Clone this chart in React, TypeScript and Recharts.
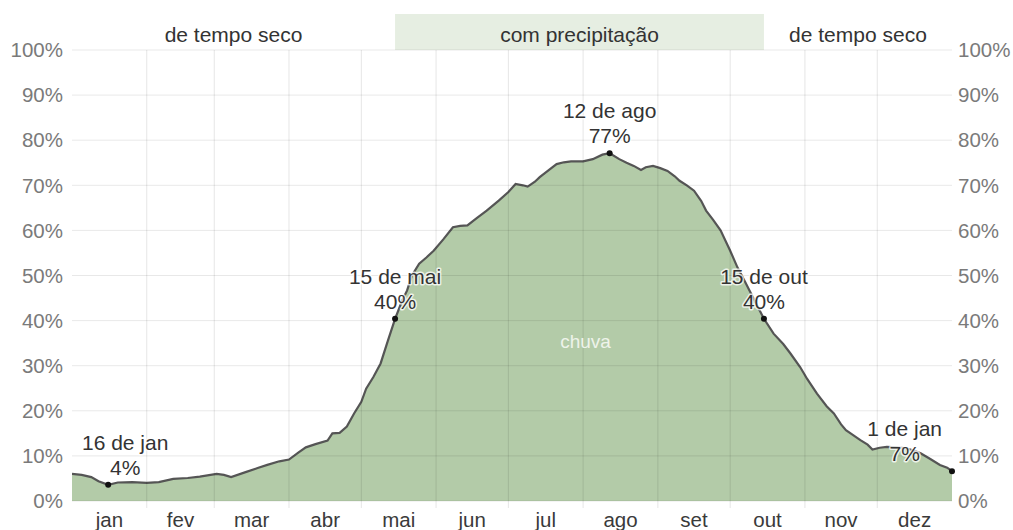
import React from 'react';
import {
  ComposedChart,
  Area,
  XAxis,
  YAxis,
  ReferenceLine,
  ReferenceArea,
  ReferenceDot,
} from 'recharts';

// ---------- data ----------
const days = [
  0, 4, 8, 11, 15, 19, 25, 31, 36, 42, 48, 53, 60, 63, 66, 72, 77, 81, 86, 90,
  94, 97, 101, 106, 108, 111, 114, 117, 120, 122, 125, 128, 131, 134, 137, 139,
  141, 144, 147, 150, 154, 158, 161, 164, 168, 172, 177, 181, 184, 187, 189,
  192, 194, 198, 201, 204, 207, 212, 216, 220, 223, 227, 230, 233, 236, 238,
  241, 244, 247, 250, 252, 255, 258, 261, 263, 266, 269, 273, 276, 279, 281,
  284, 287, 291, 295, 298, 302, 305, 309, 313, 316, 319, 321, 324, 327, 330,
  332, 335, 338, 342, 346, 349, 352, 356, 360, 363, 365,
];
const chuva = [
  6.0, 5.8, 5.3, 4.4, 3.6, 4.1, 4.2, 4.0, 4.2, 4.9, 5.1, 5.4, 6.0, 5.8, 5.3,
  6.4, 7.3, 8.0, 8.8, 9.2, 10.8, 11.9, 12.6, 13.4, 15.0, 15.1, 16.5, 19.4,
  22.0, 24.9, 27.5, 30.5, 35.5, 40.4, 44.5, 46.7, 50.0, 52.6, 54.0, 55.5, 58.0,
  60.7, 61.0, 61.1, 62.8, 64.4, 66.6, 68.5, 70.3, 70.0, 69.7, 70.8, 71.8, 73.5,
  74.7, 75.1, 75.3, 75.3, 75.8, 76.8, 77.1, 75.8, 75.0, 74.3, 73.4, 74.0, 74.3,
  73.8, 73.2, 72.0, 71.0, 70.0, 68.8, 66.5, 64.4, 62.3, 60.0, 55.5, 51.8, 48.8,
  46.7, 43.5, 40.4, 37.1, 34.8, 32.7, 29.7, 27.0, 23.8, 21.0, 19.4, 17.0, 15.7,
  14.6, 13.5, 12.5, 11.4, 11.8, 12.0, 11.9, 11.7, 11.2, 10.6, 9.3, 8.0, 7.4,
  6.6,
];
const monthNames = ['jan', 'fev', 'mar', 'abr', 'mai', 'jun', 'jul', 'ago', 'set', 'out', 'nov', 'dez'];
const monthStarts = [0, 31, 59, 90, 120, 151, 181, 212, 243, 273, 304, 334, 365];
const yTicks = [0, 10, 20, 30, 40, 50, 60, 70, 80, 90, 100];

const annotDays = [15, 134, 223, 287, 365];
const annotDates = ['16 de jan', '15 de mai', '12 de ago', '15 de out', '1 de jan'];
const annotLabels = ['4%', '40%', '77%', '40%', '7%'];

const wetStart = 134;
const wetEnd = 287;
const bandLabels = ['de tempo seco', 'com precipitação', 'de tempo seco'];
const seriesLabel = 'chuva';
const seriesLabelDay = 213;
const seriesLabelValue = 35.5;

const data = days.map((d, i) => ({ day: d, chuva: chuva[i] }));

// ---------- layout ----------
const FONT = "'Liberation Sans', Arial, sans-serif";
const W = 1013;
const H = 530;
const M_TOP = 50;
const Y_LEFT_W = 72;
const Y_RIGHT_W = 61;
const X_H = 29;
const PLOT_L = Y_LEFT_W;
const PLOT_R = W - Y_RIGHT_W;
const FS = 21;

const monthMids = monthStarts.slice(0, 12).map((s, i) => (s + monthStarts[i + 1]) / 2);
const innerStarts = monthStarts.slice(1, 12);
const xTicks = [...innerStarts, ...monthMids].sort((a, b) => a - b);

let ctx: CanvasRenderingContext2D | null = null;
const measure = (s: string) => {
  if (!ctx) ctx = document.createElement('canvas').getContext('2d');
  if (!ctx) return s.length * 10;
  ctx.font = `${FS}px ${FONT}`;
  return ctx.measureText(s).width;
};

const MonthTick = (props: any) => {
  const { x, y, payload } = props;
  const v = payload.value;
  const mi = monthMids.indexOf(v);
  if (mi >= 0) {
    return (
      <text x={x} y={y + 26} textAnchor="middle" fill="#3a3a3a" fontSize={20.5} fontFamily={FONT}>
        {monthNames[mi]}
      </text>
    );
  }
  return <line x1={x} x2={x} y1={y} y2={y + 7} stroke="#000" strokeOpacity={0.1} strokeWidth={1} />;
};

const haloProps = {
  stroke: 'rgba(255,255,255,0.75)',
  strokeWidth: 3,
  paintOrder: 'stroke' as any,
  strokeLinejoin: 'round' as any,
};

const makeAnnotShape = (date: string, pct: string) => (p: any) => {
  const { cx, cy } = p;
  const w = Math.max(measure(date), measure(pct));
  const minC = PLOT_L + 10 + w / 2;
  const maxC = PLOT_R - 10 - w / 2;
  const tx = Math.min(Math.max(cx, minC), maxC);
  return (
    <g>
      <circle cx={cx} cy={cy} r={3} fill="#111" />
      <text x={tx} y={cy - 35} textAnchor="middle" fill="#333" fontSize={FS} fontFamily={FONT} {...haloProps}>
        {date}
      </text>
      <text x={tx} y={cy - 10} textAnchor="middle" fill="#333" fontSize={FS} fontFamily={FONT} {...haloProps}>
        {pct}
      </text>
    </g>
  );
};

const seriesLabelShape = (p: any) => (
  <text x={p.cx} y={p.cy + 7} textAnchor="middle" fill="#eef3ea" fontSize={19} fontFamily={FONT}>
    {seriesLabel}
  </text>
);

const valueAt = (d: number) => {
  const i = days.indexOf(d);
  return i >= 0 ? chuva[i] : 0;
};

export default function App() {
  return (
    <div style={{ position: 'absolute', left: 0, top: 0, width: W, height: H, background: '#fff', fontFamily: FONT }}>
      <ComposedChart width={W} height={H} data={data} margin={{ top: M_TOP, right: 0, bottom: 0, left: 0 }}>
        <XAxis
          dataKey="day"
          type="number"
          domain={[0, 365]}
          ticks={xTicks}
          interval={0}
          tickLine={false}
          axisLine={false}
          tickSize={0}
          tickMargin={0}
          height={X_H}
          tick={(p: any) => <MonthTick {...p} />}
          allowDataOverflow
        />
        <YAxis
          yAxisId="l"
          domain={[0, 100]}
          ticks={yTicks}
          interval={0}
          width={Y_LEFT_W}
          axisLine={false}
          tickLine={false}
          tickSize={6}
          tickMargin={3}
          tickFormatter={(v: number) => `${v}%`}
          tick={{ fill: '#7a7a7a', fontSize: 20.5, fontFamily: FONT }}
          allowDataOverflow
        />
        <YAxis
          yAxisId="r"
          orientation="right"
          domain={[0, 100]}
          ticks={yTicks}
          interval={0}
          width={Y_RIGHT_W}
          axisLine={false}
          tickLine={false}
          tickSize={4}
          tickMargin={2}
          tickFormatter={(v: number) => `${v}%`}
          tick={{ fill: '#7a7a7a', fontSize: 20.5, fontFamily: FONT }}
          allowDataOverflow
        />
        <ReferenceArea
          yAxisId="l"
          x1={wetStart}
          x2={wetEnd}
          y1={100}
          y2={108}
          ifOverflow="visible"
          fill="#e6eee2"
          fillOpacity={1}
          stroke="none"
          label={{ value: bandLabels[1], position: 'insideBottom', offset: 8, fill: '#333', fontSize: FS, fontFamily: FONT }}
        />
        <ReferenceArea
          yAxisId="l"
          x1={0}
          x2={wetStart}
          y1={100}
          y2={108}
          ifOverflow="visible"
          fill="#fff"
          fillOpacity={0}
          stroke="none"
          label={{ value: bandLabels[0], position: 'insideBottom', offset: 8, fill: '#333', fontSize: FS, fontFamily: FONT }}
        />
        <ReferenceArea
          yAxisId="l"
          x1={wetEnd}
          x2={365}
          y1={100}
          y2={108}
          ifOverflow="visible"
          fill="#fff"
          fillOpacity={0}
          stroke="none"
          label={{ value: bandLabels[2], position: 'insideBottom', offset: 8, fill: '#333', fontSize: FS, fontFamily: FONT }}
        />
        <Area
          yAxisId="l"
          dataKey="chuva"
          type="linear"
          stroke="#555"
          strokeWidth={2.2}
          fill="#b3cba8"
          fillOpacity={1}
          dot={false}
          activeDot={false}
          isAnimationActive={false}
        />
        {yTicks.map((v) => (
          <ReferenceLine key={`h${v}`} yAxisId="l" y={v} stroke="#000" strokeOpacity={0.09} strokeWidth={1} />
        ))}
        {innerStarts.map((d) => (
          <ReferenceLine key={`v${d}`} yAxisId="l" x={d} stroke="#000" strokeOpacity={0.1} strokeWidth={1} />
        ))}
        <ReferenceDot
          yAxisId="l"
          x={seriesLabelDay}
          y={seriesLabelValue}
          r={0}
          shape={seriesLabelShape}
        />
        {annotDays.map((d, i) => (
          <ReferenceDot
            key={`a${d}`}
            yAxisId="l"
            x={d}
            y={valueAt(d)}
            r={3}
            ifOverflow="visible"
            shape={makeAnnotShape(annotDates[i], annotLabels[i])}
          />
        ))}
      </ComposedChart>
    </div>
  );
}
